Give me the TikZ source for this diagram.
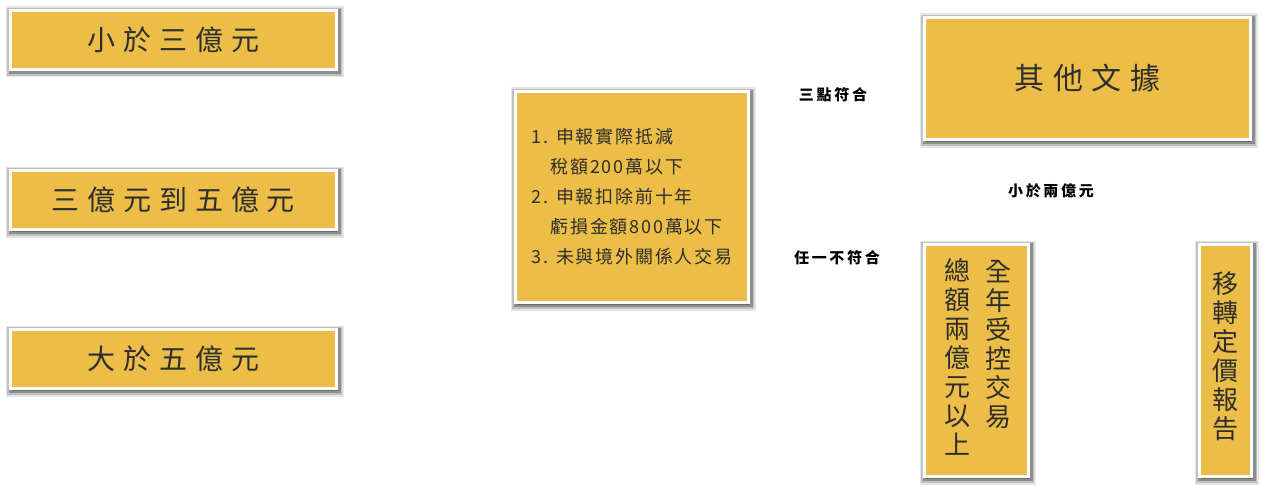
\documentclass[tikz,border=0pt]{standalone}
\usepackage{fontspec}
\usepackage{tikz}
\usetikzlibrary{positioning,shadows}
\newfontfamily\bigkai[LetterSpace=28]{Noto Sans CJK TC}
\newfontfamily\midkai[LetterSpace=10]{Noto Sans CJK TC}
\newfontfamily\colkai{Noto Sans CJK TC}
\newfontfamily\notekai[LetterSpace=18]{Noto Sans CJK TC}
\definecolor{gold}{HTML}{EDBE47}
\definecolor{ink}{HTML}{2E2E2E}

\begin{document}
\begin{tikzpicture}[x=1pt, y=-1pt]
  \tikzstyle{soft} = [general shadow={draw=black, fill=black, line width=12pt, opacity=.10, shadow xshift=1pt, shadow yshift=-2pt},
    general shadow={draw=black, fill=black, line width=9pt, opacity=.16, shadow xshift=1pt, shadow yshift=-2pt},
    general shadow={draw=black, fill=black, line width=6pt, opacity=.26, shadow xshift=1pt, shadow yshift=-1.5pt}]
  \tikzstyle{goldbox} = [rectangle, soft, fill=gold, draw=white, line width=3pt, inner sep=0pt, text=ink]
  \tikzstyle{vcol} = [text=ink, inner sep=0pt, align=center, font={\colkai\fontsize{26}{29}\selectfont}]
  \tikzstyle{note} = [inner sep=0pt, text=black, font={\notekai\bfseries\fontsize{15}{15}\selectfont}]
  \useasboundingbox (0,0) rectangle (1262,487);
  % Define nodes
  \node[goldbox, minimum width=326pt, minimum height=59pt, font={\bigkai\fontsize{28}{28}\selectfont}] (lt3) at (173.5,40) {小於三億元};
  \node[goldbox, minimum width=326pt, minimum height=59pt, font={\bigkai\fontsize{28}{28}\selectfont}, below=98pt of lt3] (mid35) {三億元到五億元};
  \node[goldbox, minimum width=326pt, minimum height=59pt, font={\bigkai\fontsize{28}{28}\selectfont}, below=97pt of mid35] (gt5) {大於五億元};

  \node[goldbox, minimum width=233pt, minimum height=211pt, align=left, font={\midkai\fontsize{18}{30}\selectfont}] (cond) at (632,197)
    {1. 申報實際抵減\\\hspace*{19pt}稅額200萬以下\\2. 申報扣除前十年\\\hspace*{19pt}虧損金額800萬以下\\3. 未與境外關係人交易};

  \node[goldbox, minimum width=326pt, minimum height=122pt, font={\bigkai\fontsize{30}{30}\selectfont}] (other) at (1087.5,78.5) {其他文據};
  \node[goldbox, minimum width=104pt, minimum height=232pt] (total) at (976.5,360.5) {};
  \node[goldbox, minimum width=52pt, minimum height=232pt] (tpr) at (1225.5,360.5) {};

  \node[vcol, anchor=north] (colR) at (998,260) {全\\年\\受\\控\\交\\易};
  \node[vcol, anchor=north] (colL) at (957,258) {總\\額\\兩\\億\\元\\以\\上};
  \node[vcol, anchor=north] (colT) at (1225.5,271) {移\\轉\\定\\價\\報\\告};

  \node[note] (fit3) at (833,95) {三點符合};
  \node[note] (under2) at (1051,191) {小於兩億元};
  \node[note] (anyno) at (837,258) {任一不符合};
\end{tikzpicture}
\end{document}
